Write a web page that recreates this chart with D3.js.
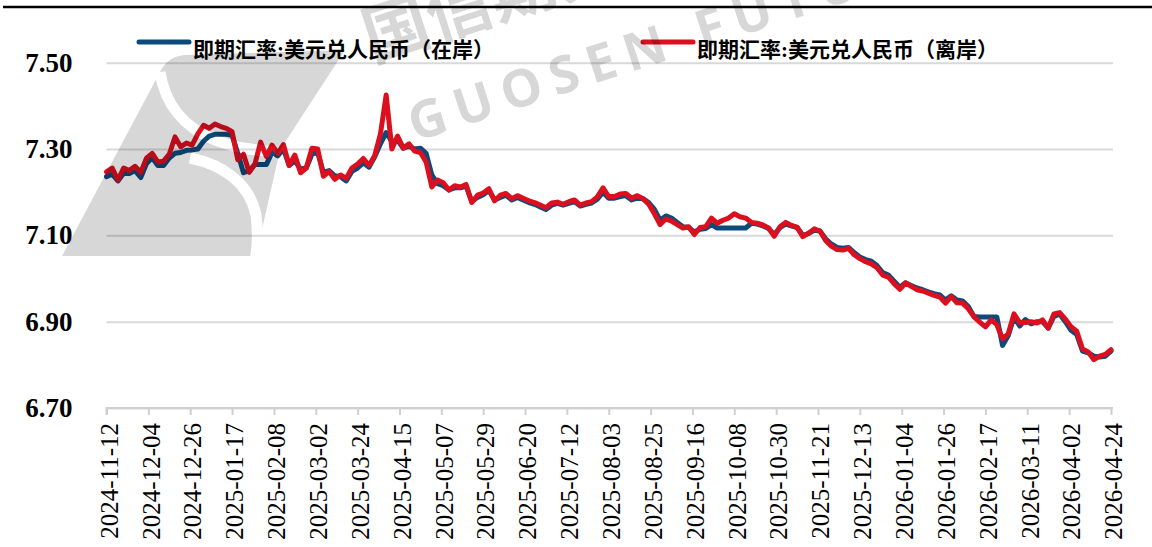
<!DOCTYPE html>
<html>
<head>
<meta charset="utf-8">
<script src="https://cdn.jsdelivr.net/npm/d3@7"></script>
<style>
  body { margin: 0; background: #fff; }
  svg { display: block; }
</style>
</head>
<body>
<div id="chart"></div>
<script>
// Data (3-day samples)
var dates = [
  "2024-11-12","2024-11-15","2024-11-18","2024-11-21","2024-11-24","2024-11-27","2024-11-30",
  "2024-12-03","2024-12-06","2024-12-09","2024-12-12","2024-12-15","2024-12-18","2024-12-21","2024-12-24","2024-12-27","2024-12-30",
  "2025-01-02","2025-01-05","2025-01-08","2025-01-11","2025-01-14","2025-01-17","2025-01-20","2025-01-23","2025-01-26","2025-01-29",
  "2025-02-01","2025-02-04","2025-02-07","2025-02-10","2025-02-13","2025-02-16","2025-02-19","2025-02-22","2025-02-25","2025-02-28",
  "2025-03-03","2025-03-06","2025-03-09","2025-03-12","2025-03-15","2025-03-18","2025-03-21","2025-03-24","2025-03-27","2025-03-30",
  "2025-04-02","2025-04-05","2025-04-08","2025-04-11","2025-04-14","2025-04-17","2025-04-20","2025-04-23","2025-04-26","2025-04-29",
  "2025-05-02","2025-05-05","2025-05-08","2025-05-11","2025-05-14","2025-05-17","2025-05-20","2025-05-23","2025-05-26","2025-05-29",
  "2025-06-01","2025-06-04","2025-06-07","2025-06-10","2025-06-13","2025-06-16","2025-06-19","2025-06-22","2025-06-25","2025-06-28",
  "2025-07-01","2025-07-04","2025-07-07","2025-07-10","2025-07-13","2025-07-16","2025-07-19","2025-07-22","2025-07-25","2025-07-28","2025-07-31",
  "2025-08-03","2025-08-06","2025-08-09","2025-08-12","2025-08-15","2025-08-18","2025-08-21","2025-08-24","2025-08-27","2025-08-30",
  "2025-09-02","2025-09-05","2025-09-08","2025-09-11","2025-09-14","2025-09-17","2025-09-20","2025-09-23","2025-09-26","2025-09-29",
  "2025-10-02","2025-10-05","2025-10-08","2025-10-11","2025-10-14","2025-10-17","2025-10-20","2025-10-23","2025-10-26","2025-10-29",
  "2025-11-01","2025-11-04","2025-11-07","2025-11-10","2025-11-13","2025-11-16","2025-11-19","2025-11-22","2025-11-25","2025-11-28",
  "2025-12-01","2025-12-04","2025-12-07","2025-12-10","2025-12-13","2025-12-16","2025-12-19","2025-12-22","2025-12-25","2025-12-28","2025-12-31",
  "2026-01-03","2026-01-06","2026-01-09","2026-01-12","2026-01-15","2026-01-18","2026-01-21","2026-01-24","2026-01-27","2026-01-30",
  "2026-02-02","2026-02-05","2026-02-08","2026-02-11","2026-02-14","2026-02-17","2026-02-20","2026-02-23","2026-02-26",
  "2026-03-01","2026-03-04","2026-03-07","2026-03-10","2026-03-13","2026-03-16","2026-03-19","2026-03-22","2026-03-25","2026-03-28","2026-03-31",
  "2026-04-03","2026-04-06","2026-04-09","2026-04-12","2026-04-15","2026-04-18","2026-04-21","2026-04-24"
];

// 即期汇率:美元兑人民币（在岸）
var onshore = [
  7.236, 7.242, 7.226, 7.244, 7.243, 7.250, 7.234, 7.266, 7.280, 7.262,
  7.262, 7.279, 7.290, 7.292, 7.297, 7.298, 7.300, 7.318, 7.330, 7.334,
  7.334, 7.334, 7.332, 7.290, 7.245, 7.250, 7.264, 7.264, 7.264, 7.292,
  7.284, 7.300, 7.262, 7.272, 7.254, 7.256, 7.288, 7.292, 7.246, 7.250,
  7.238, 7.236, 7.226, 7.248, 7.256, 7.268, 7.258, 7.282, 7.312, 7.338,
  7.318, 7.320, 7.302, 7.306, 7.300, 7.302, 7.290, 7.240, 7.220, 7.215,
  7.205, 7.210, 7.210, 7.214, 7.178, 7.188, 7.194, 7.204, 7.182, 7.188,
  7.193, 7.182, 7.188, 7.182, 7.176, 7.172, 7.166, 7.160, 7.170, 7.174,
  7.170, 7.174, 7.178, 7.168, 7.172, 7.175, 7.184, 7.200, 7.186, 7.186,
  7.190, 7.192, 7.182, 7.186, 7.185, 7.176, 7.160, 7.135, 7.145, 7.140,
  7.130, 7.120, 7.118, 7.108, 7.114, 7.116, 7.125, 7.117, 7.117, 7.117,
  7.117, 7.117, 7.117, 7.128, 7.126, 7.122, 7.116, 7.102, 7.118, 7.126,
  7.122, 7.118, 7.100, 7.104, 7.112, 7.110, 7.092, 7.080, 7.072, 7.070,
  7.072, 7.060, 7.050, 7.044, 7.040, 7.030, 7.014, 7.008, 6.994, 6.980,
  6.990, 6.984, 6.978, 6.974, 6.969, 6.965, 6.962, 6.950, 6.960, 6.950,
  6.948, 6.935, 6.912, 6.911, 6.911, 6.911, 6.911, 6.845, 6.868, 6.910,
  6.890, 6.905, 6.895, 6.900, 6.900, 6.885, 6.912, 6.918, 6.900, 6.880,
  6.870, 6.832, 6.828, 6.820, 6.818, 6.820, 6.832
];

// 即期汇率:美元兑人民币（离岸）
var offshore = [
  7.247, 7.256, 7.228, 7.256, 7.250, 7.260, 7.246, 7.279, 7.290, 7.270,
  7.272, 7.288, 7.328, 7.305, 7.314, 7.309, 7.335, 7.355, 7.348, 7.358,
  7.352, 7.348, 7.340, 7.275, 7.288, 7.246, 7.265, 7.316, 7.283, 7.309,
  7.290, 7.310, 7.262, 7.286, 7.245, 7.256, 7.302, 7.300, 7.237, 7.248,
  7.230, 7.240, 7.232, 7.256, 7.265, 7.278, 7.262, 7.285, 7.335, 7.425,
  7.300, 7.330, 7.302, 7.312, 7.295, 7.292, 7.270, 7.212, 7.228, 7.222,
  7.205, 7.215, 7.212, 7.218, 7.176, 7.193, 7.198, 7.208, 7.180, 7.193,
  7.197, 7.185, 7.192, 7.186, 7.180, 7.176, 7.170, 7.164, 7.175, 7.177,
  7.172, 7.178, 7.182, 7.170, 7.175, 7.178, 7.189, 7.210, 7.190, 7.190,
  7.196, 7.197, 7.186, 7.192, 7.185, 7.172, 7.150, 7.125, 7.138, 7.133,
  7.125, 7.117, 7.120, 7.102, 7.118, 7.120, 7.140, 7.128, 7.135, 7.140,
  7.150, 7.143, 7.140, 7.130, 7.128, 7.124, 7.117, 7.098, 7.120, 7.130,
  7.123, 7.119, 7.097, 7.105, 7.115, 7.110, 7.088, 7.075, 7.067, 7.066,
  7.070, 7.055, 7.046, 7.039, 7.034, 7.025, 7.008, 7.003, 6.988, 6.975,
  6.990, 6.982, 6.974, 6.971, 6.966, 6.961, 6.957, 6.943, 6.958, 6.944,
  6.943, 6.930, 6.911, 6.899, 6.888, 6.904, 6.893, 6.860, 6.872, 6.918,
  6.898, 6.898, 6.900, 6.897, 6.904, 6.885, 6.918, 6.921, 6.906, 6.888,
  6.878, 6.837, 6.830, 6.812, 6.820, 6.824, 6.835
];

var tickDates = [
  "2024-11-12","2024-12-04","2024-12-26","2025-01-17","2025-02-08","2025-03-02","2025-03-24",
  "2025-04-15","2025-05-07","2025-05-29","2025-06-20","2025-07-12","2025-08-03","2025-08-25",
  "2025-09-16","2025-10-08","2025-10-30","2025-11-21","2025-12-13","2026-01-04","2026-01-26",
  "2026-02-17","2026-03-11","2026-04-02","2026-04-24"
];
var yTicks = [6.70, 6.90, 7.10, 7.30, 7.50];
var seriesNames = ["即期汇率:美元兑人民币（在岸）", "即期汇率:美元兑人民币（离岸）"];
var seriesColors = ["#0c4a7c", "#dc0f1f"];

// Chart area
var svgWidth = 1152;
var svgHeight = 547;
var margin = { top: 62.7, right: 39, bottom: 139, left: 106.5 };
var width = svgWidth - margin.left - margin.right;
var height = svgHeight - margin.top - margin.bottom;

var parseDate = d3.timeParse("%Y-%m-%d");
var fmt = d3.timeFormat("%Y-%m-%d");

var svg = d3.select("#chart")
  .append("svg")
  .attr("width", svgWidth)
  .attr("height", svgHeight);

var chartGroup = svg.append("g")
  .attr("transform", `translate(${margin.left}, ${margin.top})`);

var xScale = d3.scaleTime()
  .domain([parseDate(tickDates[0]), parseDate(tickDates[tickDates.length - 1])])
  .range([0, 1111 - margin.left]);

var yScale = d3.scaleLinear()
  .domain([6.70, 7.50])
  .range([height, 0]);

// top rule
svg.append("line")
  .attr("x1", 3).attr("x2", svgWidth)
  .attr("y1", 7).attr("y2", 7)
  .attr("stroke", "#000")
  .attr("stroke-width", 2.5);

// y axis with gridlines
var leftAxis = d3.axisLeft(yScale)
  .tickValues(yTicks)
  .tickSize(-(1113 - margin.left))
  .tickPadding(34)
  .tickFormat(d3.format(".2f"));

var yAxisG = chartGroup.append("g").call(leftAxis);
yAxisG.select(".domain").remove();
yAxisG.selectAll("line")
  .attr("stroke", "#d9d9d9")
  .attr("stroke-width", 2);
yAxisG.selectAll("text")
  .attr("fill", "#000")
  .style("font-family", "'Liberation Serif', serif")
  .style("font-size", "27px")
  .style("font-weight", "bold");

// x axis
var bottomAxis = d3.axisBottom(xScale)
  .tickValues(tickDates.map(parseDate))
  .tickSize(7)
  .tickFormat(fmt);

var xAxisG = chartGroup.append("g")
  .attr("transform", `translate(0, ${height})`)
  .call(bottomAxis);
xAxisG.select(".domain")
  .attr("stroke", "#d0d0d0")
  .attr("stroke-width", 2)
  .attr("d", `M0,7V0H${1113 - margin.left}`);
xAxisG.selectAll("line")
  .attr("stroke", "#d0d0d0")
  .attr("stroke-width", 2);
xAxisG.selectAll("text")
  .attr("transform", "rotate(-90)")
  .attr("x", -15)
  .attr("y", 2)
  .attr("dy", "0.35em")
  .attr("text-anchor", "end")
  .attr("fill", "#000")
  .style("font-family", "'Liberation Serif', serif")
  .style("font-size", "25px");

// lines
var rows = dates.map(function(d, i) {
  return { date: parseDate(d), on: onshore[i], off: offshore[i] };
});

var lineOn = d3.line()
  .x(d => xScale(d.date))
  .y(d => yScale(d.on));
var lineOff = d3.line()
  .x(d => xScale(d.date))
  .y(d => yScale(d.off));

chartGroup.append("path")
  .datum(rows)
  .attr("d", lineOn)
  .attr("fill", "none")
  .attr("stroke", seriesColors[0])
  .attr("stroke-width", 5)
  .attr("stroke-linejoin", "round")
  .attr("stroke-linecap", "round");

chartGroup.append("path")
  .datum(rows)
  .attr("d", lineOff)
  .attr("fill", "none")
  .attr("stroke", seriesColors[1])
  .attr("stroke-width", 5)
  .attr("stroke-linejoin", "round")
  .attr("stroke-linecap", "round");

// legend
var legendX = [139, 643];
seriesNames.forEach(function(name, i) {
  var g = svg.append("g").attr("transform", `translate(${legendX[i]}, 42)`);
  g.append("line")
    .attr("x1", 0).attr("x2", 50)
    .attr("stroke", seriesColors[i])
    .attr("stroke-width", 5)
    .attr("stroke-linecap", "round");
  g.append("text")
    .attr("x", 54)
    .attr("y", 8)
    .attr("dominant-baseline", "central")
    .attr("fill", "#000")
    .style("font-family", "'Liberation Serif', 'Noto Sans CJK SC', serif")
    .style("font-size", "21px")
    .style("font-weight", "bold")
    .text(name);
});

// watermark (semi-transparent, on top)
var defs = svg.append("defs");
var mask = defs.append("mask").attr("id", "logoMask");
mask.append("rect").attr("width", svgWidth).attr("height", svgHeight).attr("fill", "#fff");
mask.append("path")
  .attr("d", "M160,72 C165,105 185,128 215,140 C235,148 255,150 275,152")
  .attr("fill", "none").attr("stroke", "#000").attr("stroke-width", 11);
mask.append("path")
  .attr("d", "M190,158 C225,165 250,185 256,215 C259,235 257,250 255,262")
  .attr("fill", "none").attr("stroke", "#000").attr("stroke-width", 11);

var wm = svg.append("g").attr("opacity", 0.16).attr("pointer-events", "none");
wm.append("path")
  .attr("mask", "url(#logoMask)")
  .attr("d", "M62,256 L160,72 Q168,56 185,55 L345,50 L280,150 L256,256 Z")
  .attr("fill", "#000");
wm.append("text")
  .attr("transform", "translate(372,62) rotate(-18)")
  .style("font-family", "'Noto Sans CJK SC', sans-serif")
  .style("font-size", "66px")
  .style("font-weight", "bold")
  .attr("fill", "#000")
  .text("国信期货");
wm.append("text")
  .attr("transform", "translate(415,142) rotate(-18)")
  .style("font-family", "'Open Sans', sans-serif")
  .style("font-size", "52px")
  .style("font-weight", "bold")
  .style("letter-spacing", "10px")
  .attr("fill", "#000")
  .text("GUOSEN FUTURES");
</script>
</body>
</html>
